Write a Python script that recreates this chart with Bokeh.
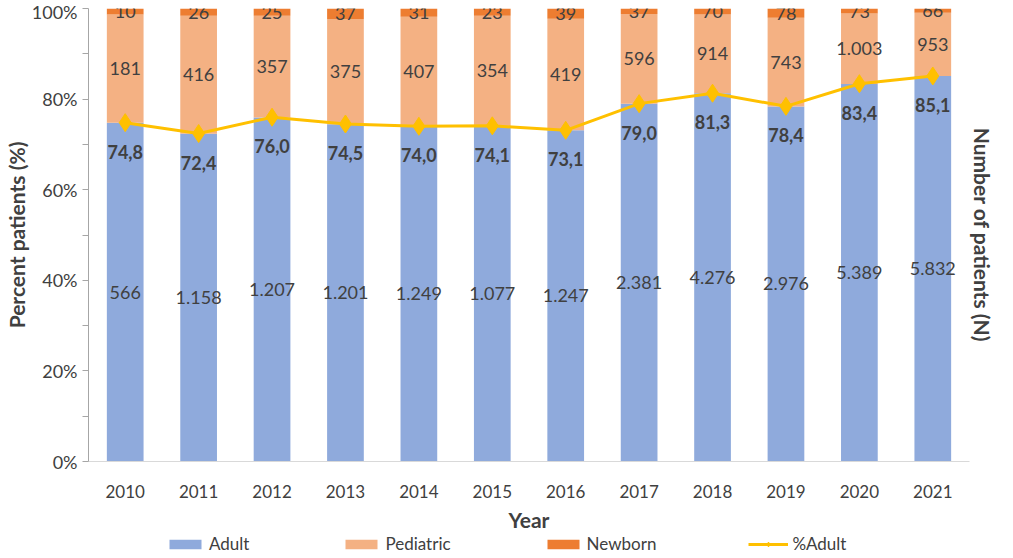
from bokeh.plotting import figure
from bokeh.layouts import column
from bokeh.models import (ColumnDataSource, FactorRange, LinearAxis, FixedTicker,
                          Legend, LegendItem, PrintfTickFormatter, Range1d)
from bokeh.core.properties import value
from bokeh.embed import file_html
from bokeh.resources import INLINE

years = ["2010", "2011", "2012", "2013", "2014", "2015",
         "2016", "2017", "2018", "2019", "2020", "2021"]
adult = [566, 1158, 1207, 1201, 1249, 1077, 1247, 2381, 4276, 2976, 5389, 5832]
pediatric = [181, 416, 357, 375, 407, 354, 419, 596, 914, 743, 1003, 953]
newborn = [10, 26, 25, 37, 31, 23, 39, 37, 70, 78, 73, 66]
pct_adult = [74.8, 72.4, 76.0, 74.5, 74.0, 74.1, 73.1, 79.0, 81.3, 78.4, 83.4, 85.1]
y_ticks = [0, 20, 40, 60, 80, 100]

FONT = "Lato"
TXT = "#404040"
C_ADULT = "#8FAADC"
C_PED = "#F4B183"
C_NEW = "#ED7D31"
C_LINE = "#FFC000"


def fmt_n(n):
    return f"{n:,}".replace(",", ".")


def fmt_p(v):
    return f"{v:.1f}".replace(".", ",")


totals = [a + p + n for a, p, n in zip(adult, pediatric, newborn)]
a_sh = [a / t * 100 for a, t in zip(adult, totals)]
p_sh = [p / t * 100 for p, t in zip(pediatric, totals)]
n_sh = [n / t * 100 for n, t in zip(newborn, totals)]

src = ColumnDataSource(dict(
    year=years, a=a_sh, p=p_sh, n=n_sh,
    a_mid=[a / 2 for a in a_sh],
    p_mid=[a + p / 2 for a, p in zip(a_sh, p_sh)],
    n_mid=[a + p + n / 2 for a, p, n in zip(a_sh, p_sh, n_sh)],
    a_lbl=[fmt_n(v) for v in adult],
    p_lbl=[fmt_n(v) for v in pediatric],
    n_lbl=[fmt_n(v) for v in newborn],
    pct=pct_adult,
    pct_y=[v - 6.4 for v in pct_adult],
    pct_lbl=[fmt_p(v) for v in pct_adult],
))

p = figure(width=997, height=534, x_range=FactorRange(*years, range_padding=0),
           y_range=Range1d(0, 100), output_backend="svg", toolbar_location=None,
           min_border_left=70, min_border_right=0, min_border_top=8, min_border_bottom=0)
p.outline_line_color = None
p.xgrid.grid_line_color = None
p.ygrid.grid_line_color = None

bars = p.vbar_stack(["a", "p", "n"], x="year", width=0.5, source=src,
                    color=[C_ADULT, C_PED, C_NEW], line_color=None)

ln = p.line("year", "pct", source=src, line_color=C_LINE, line_width=3)
mk = p.scatter("year", "pct", source=src, marker="diamond", size=18,
               fill_color=C_LINE, line_color=C_LINE)

common = dict(source=src, text_align="center", text_baseline="middle",
              text_font=value(FONT), text_color=TXT)
p.text(x="year", y="a_mid", text="a_lbl", text_font_size="18px", **common)
p.text(x="year", y="p_mid", text="p_lbl", text_font_size="18px", **common)
p.text(x="year", y="n_mid", text="n_lbl", text_font_size="18px", **common)
p.text(x="year", y="pct_y", text="pct_lbl", text_font_size="18px",
       text_font_style="bold", **common)

# left axis
ya = p.yaxis[0]
ya.ticker = FixedTicker(ticks=y_ticks, minor_ticks=[10, 30, 50, 70, 90])
ya.formatter = PrintfTickFormatter(format="%d%%")
ya.axis_label = "Percent patients (%)"
ya.axis_label_text_font = FONT
ya.axis_label_text_font_style = "bold"
ya.axis_label_text_font_size = "21px"
ya.axis_label_text_color = TXT
ya.axis_label_standoff = 0
ya.major_label_text_font = FONT
ya.major_label_text_font_size = "18px"
ya.major_label_text_color = TXT
ya.major_label_standoff = 5
ya.axis_line_color = "#A6A6A6"
ya.major_tick_line_color = "#A6A6A6"
ya.minor_tick_line_color = "#A6A6A6"
ya.major_tick_out = 6
ya.major_tick_in = 0
ya.minor_tick_out = 6
ya.minor_tick_in = 0

# x axis
xa = p.xaxis[0]
xa.axis_label = "Year"
xa.axis_label_text_font = FONT
xa.axis_label_text_font_style = "bold"
xa.axis_label_text_font_size = "21px"
xa.axis_label_text_color = TXT
xa.axis_label_standoff = 6
xa.major_label_text_font = FONT
xa.major_label_text_font_size = "17px"
xa.major_label_text_color = TXT
xa.major_label_standoff = 17
xa.axis_line_color = "#D9D9D9"
xa.major_tick_line_color = None
xa.minor_tick_line_color = None

# right axis (title only)
ra = LinearAxis(ticker=FixedTicker(ticks=[]), axis_line_color=None,
                major_tick_line_color=None, minor_tick_line_color=None,
                axis_label="Number of patients (N)", axis_label_text_font=FONT,
                axis_label_text_font_style="bold", axis_label_text_font_size="21px",
                axis_label_text_color=TXT, axis_label_standoff=0)
p.add_layout(ra, "right")

# legend strip (separate figure so the legend sits below the axis title)
lf = figure(width=997, height=22, x_range=FactorRange(*years), y_range=Range1d(1000, 1001),
            x_axis_type=None, y_axis_type=None, output_backend="svg",
            toolbar_location=None, min_border=0)
lf.outline_line_color = None
lbars = lf.vbar_stack(["a", "p", "n"], x="year", width=0.5, source=src,
                      color=[C_ADULT, C_PED, C_NEW], line_color=None)
lln = lf.line("year", "pct", source=src, line_color=C_LINE, line_width=3)
lmk = lf.scatter("year", "pct", source=src, marker="diamond", size=13,
                 fill_color=C_LINE, line_color=C_LINE)

legend = Legend(items=[
    LegendItem(label="Adult", renderers=[lbars[0]]),
    LegendItem(label="Pediatric", renderers=[lbars[1]]),
    LegendItem(label="Newborn", renderers=[lbars[2]]),
    LegendItem(label="%Adult", renderers=[lln, lmk]),
], orientation="horizontal", location=(77, 2), spacing=92, glyph_width=40,
    glyph_height=12, label_standoff=4, label_text_font=FONT,
    label_text_font_size="17px", label_text_color=TXT, border_line_color=None,
    background_fill_alpha=0, padding=0, margin=0, label_height=18)
lf.add_layout(legend, "center")

layout = column(p, lf, spacing=0)
open("out.html", "w").write(file_html(layout, INLINE))
